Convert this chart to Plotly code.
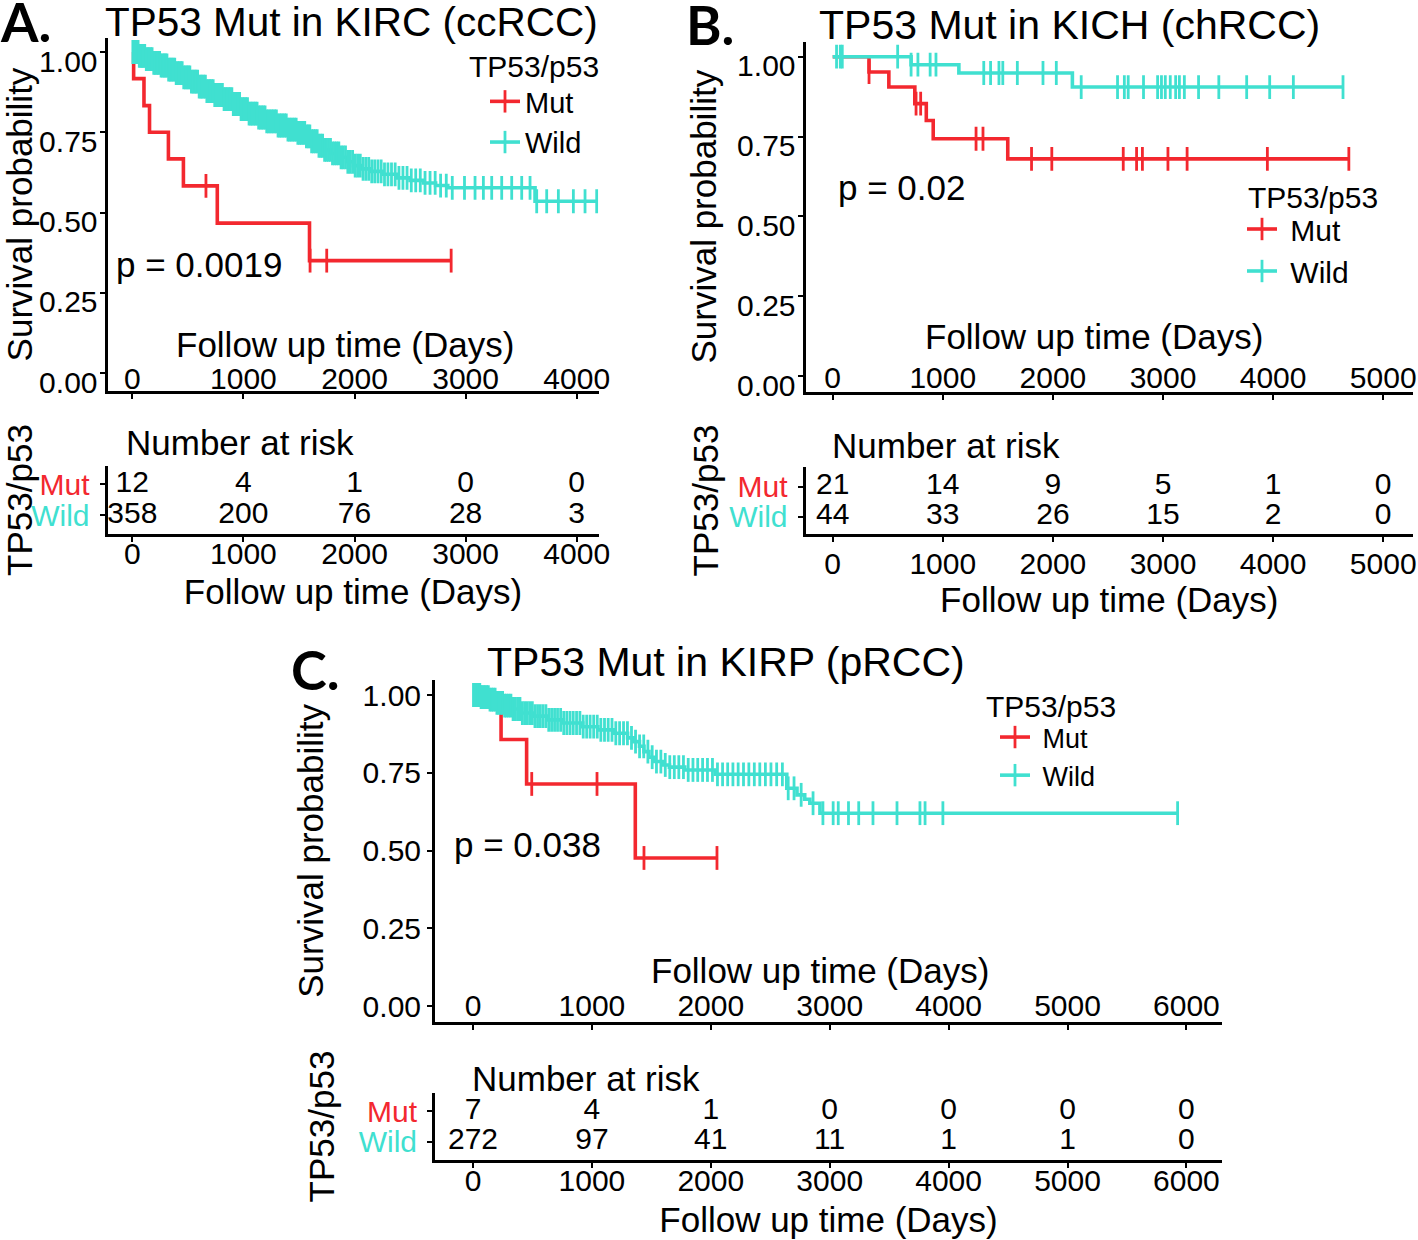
import plotly.graph_objects as go

W, H = 1418, 1240
RED = "#F3282F"
TURQ = "#40E0D0"
FONT = "Liberation Sans, Arial, Helvetica, sans-serif"

# ---------------- Panel A : KIRC (ccRCC) ----------------
A_mut_t = [0, 12, 105, 155, 325, 460, 765, 1595, 2870]
A_mut_s = [1.0, 0.917, 0.833, 0.750, 0.667, 0.583, 0.467, 0.350, 0.350]
A_mut_cens = [663, 1600, 1750, 2870]

A_wild_t = [0, 55, 120, 190, 250, 320, 390, 450, 520, 600, 670, 740, 820, 900, 975,
            1050, 1130, 1210, 1300, 1390, 1480, 1560, 1610, 1665, 1720, 1790, 1860,
            1930, 1990, 2070, 2150, 2250, 2380, 2500, 2620, 2730, 2840, 3625, 4180]
A_wild_s = [1.0, 0.988, 0.978, 0.966, 0.958, 0.945, 0.934, 0.921, 0.908, 0.892, 0.878,
            0.866, 0.853, 0.838, 0.822, 0.808, 0.796, 0.784, 0.771, 0.758, 0.748, 0.737,
            0.722, 0.708, 0.695, 0.684, 0.672, 0.658, 0.646, 0.636, 0.628, 0.619, 0.608,
            0.600, 0.592, 0.584, 0.577, 0.535, 0.535]
A_wild_cens = [5, 14, 22, 31, 40, 52, 63, 77, 88, 99, 112, 126, 140, 151, 166, 178, 193,
               205, 219, 232, 246, 259, 273, 287, 298, 312, 327, 341, 353, 368, 382, 395,
               409, 423, 437, 449, 463, 478, 491, 505, 518, 532, 547, 561, 574, 588, 602,
               617, 629, 644, 658, 671, 686, 699, 713, 728, 742, 755, 769, 784, 797, 811,
               826, 839, 853, 868, 881, 896, 909, 923, 938, 951, 966, 979, 994, 1008, 1022,
               1037, 1051, 1066, 1079, 1094, 1108, 1123, 1137, 1152, 1166, 1181, 1195, 1210,
               1224, 1239, 1254, 1268, 1283, 1297, 1312, 1327, 1341, 1356, 1371, 1386, 1401,
               1415, 1430, 1445, 1460, 1475, 1490, 1506, 1521, 1536, 1552, 1567, 1583, 1598,
               1614, 1631, 1647, 1664, 1680, 1697, 1713, 1731, 1748, 1766, 1784, 1802, 1821,
               1840, 1859, 1879, 1898, 1919, 1940, 1961, 1983, 2006, 2028, 2052, 2077, 2102,
               2128, 2155, 2182, 2211, 2240, 2270, 2301, 2333, 2366, 2400, 2436, 2473, 2511,
               2551, 2592, 2635, 2680, 2726, 2775, 2826, 2880, 2990, 3085, 3160, 3235, 3325,
               3415, 3505, 3580, 3640, 3730, 3835, 3970, 4075, 4180]
A_risk_t = [0, 1000, 2000, 3000, 4000]
A_risk_mut = [12, 4, 1, 0, 0]
A_risk_wild = [358, 200, 76, 28, 3]

# ---------------- Panel B : KICH (chRCC) ----------------
B_mut_t = [0, 330, 510, 746, 850, 913, 1590, 4688]
B_mut_s = [1.0, 0.952, 0.905, 0.853, 0.800, 0.743, 0.680, 0.680]
B_mut_cens = [330, 757, 799, 1302, 1365, 1806, 1990, 2639, 2760, 2813, 3045, 3219, 3948, 4688]

B_wild_t = [0, 712, 1146, 2177, 4635]
B_wild_s = [1.0, 0.975, 0.949, 0.905, 0.905]
B_wild_cens = [35, 69, 87, 590, 712, 774, 885, 938, 1372, 1434, 1510, 1545, 1677, 1910,
               2031, 2257, 2587, 2649, 2684, 2823, 2951, 2986, 3021, 3066, 3115, 3149,
               3194, 3323, 3507, 3760, 3969, 4184, 4635]
B_risk_t = [0, 1000, 2000, 3000, 4000, 5000]
B_risk_mut = [21, 14, 9, 5, 1, 0]
B_risk_wild = [44, 33, 26, 15, 2, 0]

# ---------------- Panel C : KIRP (pRCC) ----------------
C_mut_t = [0, 236, 451, 1365, 2052]
C_mut_s = [1.0, 0.857, 0.714, 0.476, 0.476]
C_mut_cens = [494, 1043, 1438, 2052]

C_wild_t = [0, 60, 130, 200, 258, 330, 408, 500, 622, 760, 923, 1050, 1180, 1300, 1352,
            1400, 1438, 1480, 1524, 1600, 1652, 1781, 2039, 2639, 2725, 2790, 2833, 2918, 5926]
C_wild_s = [1.0, 0.993, 0.985, 0.975, 0.966, 0.955, 0.942, 0.932, 0.920, 0.910, 0.898,
            0.888, 0.877, 0.862, 0.850, 0.835, 0.818, 0.800, 0.786, 0.775, 0.768, 0.759,
            0.745, 0.700, 0.679, 0.665, 0.652, 0.620, 0.620]
C_wild_cens = [4, 12, 20, 29, 38, 47, 57, 68, 79, 91, 103, 116, 129, 143, 157, 171, 186,
               201, 217, 233, 249, 266, 283, 301, 319, 337, 356, 375, 395, 415, 435, 456,
               477, 499, 521, 543, 566, 589, 613, 637, 661, 686, 711, 737, 763, 789, 816,
               843, 871, 899, 927, 956, 985, 1015, 1045, 1075, 1106, 1137, 1169, 1201, 1233,
               1266, 1299, 1333, 1367, 1401, 1436, 1471, 1507, 1543, 1580, 1617, 1655, 1693,
               1731, 1770, 1810, 1850, 1890, 1931, 1972, 2014, 2056, 2099, 2142, 2186, 2230,
               2275, 2320, 2366, 2412, 2459, 2506, 2554, 2602, 2651, 2700, 2760, 2860, 2943,
               3029, 3072, 3158, 3244, 3364, 3566, 3759, 3802, 3952, 5926]
C_risk_t = [0, 1000, 2000, 3000, 4000, 5000, 6000]
C_risk_mut = [7, 4, 1, 0, 0, 0, 0]
C_risk_wild = [272, 97, 41, 11, 1, 1, 0]

groups = ["Mut", "Wild"]
colors = {"Mut": RED, "Wild": TURQ}


def px(x):
    return x / W


def py(y):
    return 1 - y / H


def surv_at(ts, ss, t):
    v = ss[0]
    for ti, si in zip(ts, ss):
        if ti <= t:
            v = si
    return v


fig = go.Figure()

panels = [
    dict(main="", riskax="2", legend="legend", pad="",
         curves={"Mut": (A_mut_t, A_mut_s, A_mut_cens), "Wild": (A_wild_t, A_wild_s, A_wild_cens)},
         risk_t=A_risk_t, counts={"Mut": A_risk_mut, "Wild": A_risk_wild}),
    dict(main="3", riskax="4", legend="legend2", pad="\u00a0",
         curves={"Mut": (B_mut_t, B_mut_s, B_mut_cens), "Wild": (B_wild_t, B_wild_s, B_wild_cens)},
         risk_t=B_risk_t, counts={"Mut": B_risk_mut, "Wild": B_risk_wild}),
    dict(main="5", riskax="6", legend="legend3", pad="\u00a0",
         curves={"Mut": (C_mut_t, C_mut_s, C_mut_cens), "Wild": (C_wild_t, C_wild_s, C_wild_cens)},
         risk_t=C_risk_t, counts={"Mut": C_risk_mut, "Wild": C_risk_wild}),
]

LW = 3.6
MS = 17
for p in panels:
    xa, ya = "x" + p["main"], "y" + p["main"]
    for g in groups:
        ts, ss, cens = p["curves"][g]
        fig.add_trace(go.Scatter(x=ts, y=ss, mode="lines", line=dict(color=colors[g], width=LW, shape="hv"),
                                 xaxis=xa, yaxis=ya, showlegend=False, hoverinfo="skip"))
        fig.add_trace(go.Scatter(x=cens, y=[surv_at(ts, ss, c) for c in cens], mode="markers",
                                 marker=dict(symbol="line-ns-open", size=MS, color=colors[g],
                                             line=dict(width=2.8, color=colors[g])),
                                 xaxis=xa, yaxis=ya, showlegend=False, hoverinfo="skip"))
    for g in groups:
        fig.add_trace(go.Scatter(x=[None], y=[None], mode="lines+markers", name=p["pad"] + g,
                                 line=dict(color=colors[g], width=LW),
                                 marker=dict(symbol="line-ns-open", size=16, color=colors[g],
                                             line=dict(width=2.8, color=colors[g])),
                                 xaxis=xa, yaxis=ya, legend=p["legend"], showlegend=True))
    rxa, rya = "x" + p["riskax"], "y" + p["riskax"]
    for g, row in (("Mut", 1), ("Wild", 0)):
        vals = p["counts"][g]
        fig.add_trace(go.Scatter(x=p["risk_t"], y=[row] * len(vals), mode="text",
                                 text=[str(v) for v in vals],
                                 textfont=dict(size=30, color="black", family=FONT),
                                 xaxis=rxa, yaxis=rya, showlegend=False, hoverinfo="skip"))

axis_common = dict(showline=True, linecolor="black", linewidth=3, ticks="outside", ticklen=5,
                   tickwidth=2, tickcolor="black", showgrid=False, zeroline=False, automargin=False,
                   tickfont=dict(size=30, color="black", family=FONT))

risk_ticktext = ['<span style="color:%s">Mut</span>' % RED, '<span style="color:%s">Wild</span>' % TURQ]

geo = [
    dict(x0=107.5, x1=598.5, x_zero=132.3, k=0.1111, ticks=A_risk_t,
         m=(38, 391, 52, 373), r=(466, 534, 484, 515), shift=9, ylstand=-4, ystand=1, rstand=1,
         mstand=-46, rxstand=-14, rtstand=11),
    dict(x0=805.5, x1=1413, x_zero=832.7, k=0.1101, ticks=B_risk_t,
         m=(41.7, 391.7, 56.7, 376), r=(466.7, 534.3, 486.7, 516.7), shift=9, ylstand=-4, ystand=10,
         rstand=0, mstand=-48, rxstand=-4, rtstand=9),
    dict(x0=435, x1=1222, x_zero=473, k=0.1189, ticks=C_risk_t,
         m=(680, 1021.7, 695, 1006), r=(1093, 1160, 1111, 1141.7), shift=0, ylstand=0, ystand=29,
         rstand=14, mstand=-50, rxstand=-13, rtstand=12),
]

layout_axes = {}
for p, g in zip(panels, geo):
    xr = [(g["x0"] - g["x_zero"]) / g["k"], (g["x1"] - g["x_zero"]) / g["k"]]
    top, bot, y1, y0 = g["m"]
    per = y0 - y1
    yr = [-(bot - y0) / per, (y0 - top) / per]
    rt, rb, rm, rw = g["r"]
    rper = rw - rm
    ryr = [-(rb - rw) / rper, 1 + (rm - rt) / rper]
    mi, ri = p["main"], p["riskax"]
    layout_axes["xaxis" + mi] = dict(axis_common, domain=[px(g["x0"]), px(g["x1"])], range=xr,
                                     anchor="y" + mi, tickvals=g["ticks"],
                                     ticklabelstandoff=g["mstand"])
    layout_axes["yaxis" + mi] = dict(axis_common, domain=[py(bot), py(top)], range=yr, anchor="x" + mi,
                                     tickvals=[0, 0.25, 0.5, 0.75, 1.0],
                                     ticktext=["0.00", "0.25", "0.50", "0.75", "1.00"],
                                     ticklabelshift=g["shift"], ticklabelstandoff=g["ylstand"],
                                     title=dict(text="Survival probability", font=dict(size=35, family=FONT),
                                                standoff=g["ystand"]))
    layout_axes["xaxis" + ri] = dict(axis_common, domain=[px(g["x0"]), px(g["x1"])], range=xr,
                                     anchor="y" + ri, tickvals=g["ticks"],
                                     ticklabelstandoff=g["rxstand"],
                                     title=dict(text="Follow up time (Days)",
                                                font=dict(size=35, family=FONT), standoff=g["rtstand"]))
    layout_axes["yaxis" + ri] = dict(axis_common, domain=[py(rb), py(rt)], range=ryr,
                                     anchor="x" + ri, tickvals=[1, 0], ticktext=risk_ticktext,
                                     tickfont=dict(size=30, family=FONT), ticklabelstandoff=4,
                                     title=dict(text="TP53/p53", font=dict(size=35, family=FONT),
                                                standoff=g["rstand"]))

ann = []


def add_text(text, x, y, size, xanchor="left", bold=False, family=FONT):
    ann.append(dict(text=text, x=px(x), y=py(y), xref="paper", yref="paper", showarrow=False,
                    xanchor=xanchor, yanchor="middle",
                    font=dict(size=size, family=family, color="black",
                              weight="bold" if bold else "normal")))


add_text("A.", 25, 22, 54, "center", True, "Lato, Open Sans, sans-serif")
add_text("B.", 710, 25, 54, "center", True, "Lato, Open Sans, sans-serif")
add_text("C.", 315, 669, 54, "center", True, "Lato, Open Sans, sans-serif")
add_text("TP53 Mut in KIRC (ccRCC)", 103, 22, 40.5)
add_text("TP53 Mut in KICH (chRCC)", 817, 25, 41)
add_text("TP53 Mut in KIRP (pRCC)", 485, 662, 41)
add_text("p = 0.0019", 114, 264, 35)
add_text("p = 0.02", 836, 187, 35)
add_text("p = 0.038", 452, 844, 35)
add_text("Follow up time (Days)", 345, 345, 35, "center")
add_text("Follow up time (Days)", 1094, 337, 35, "center")
add_text("Follow up time (Days)", 820, 970, 35, "center")
add_text("Number at risk", 124, 443, 35)
add_text("Number at risk", 830, 446, 35)
add_text("Number at risk", 470, 1078, 35)
add_text("TP53/p53", 467, 66, 30)
add_text("TP53/p53", 1246, 197, 30)
add_text("TP53/p53", 984, 706, 30)

legend_common = dict(xanchor="left", yanchor="top", bgcolor="rgba(0,0,0,0)",
                     font=dict(size=30, family=FONT, color="black"), itemwidth=30,
                     tracegroupgap=0, traceorder="normal")

fig.update_layout(
    width=W, height=H, margin=dict(l=0, r=0, t=0, b=0, autoexpand=False), autosize=False,
    paper_bgcolor="white", plot_bgcolor="white",
    font=dict(family=FONT, color="black"),
    annotations=ann,
    legend=dict(legend_common, x=px(485), y=py(76), font=dict(size=29, family=FONT, color="black")),
    legend2=dict(legend_common, x=px(1242), y=py(203)),
    legend3=dict(legend_common, x=px(995), y=py(713), font=dict(size=27, family=FONT, color="black")),
    **layout_axes,
)

fig.write_html("out.html", config={"displayModeBar": False},
               post_script="document.body.style.margin='0';")
